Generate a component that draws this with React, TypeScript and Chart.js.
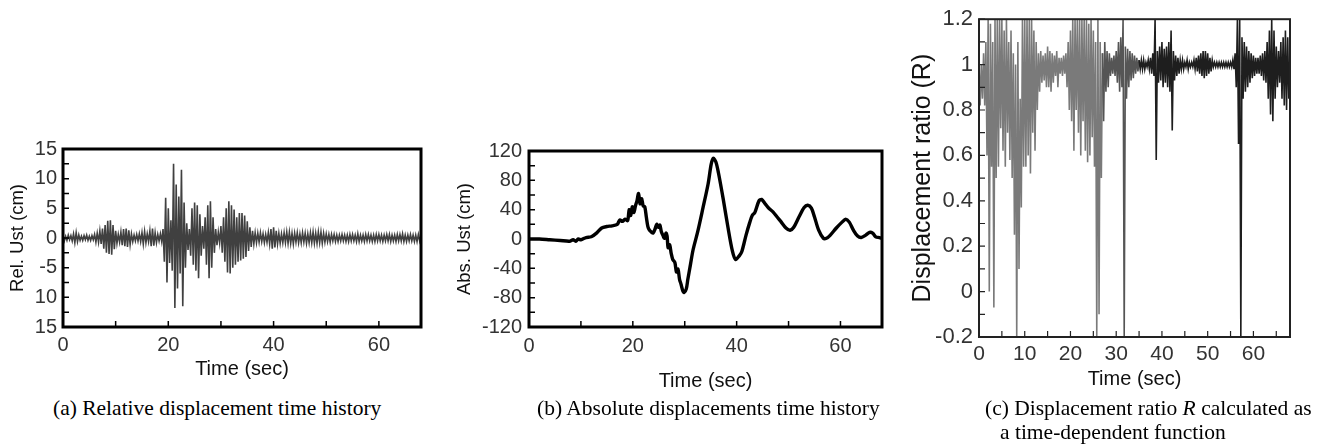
import React, { useEffect, useRef } from 'react';
import { Chart, registerables } from 'chart.js';

Chart.register(...registerables);

// ---------------- (a) Relative displacement time history ----------------
const REL_DT = 0.25; // seconds between samples
const REL_UST = [
  0.4, -0.5, 0.3, -0.4,
  0.5, -0.3, 0.4, -0.5,
  0.7, -0.8, 0.9, -0.6,
  0.5, -0.4, 0.3, -0.4,
  0.4, -0.3, 0.5, -0.4,
  0.3, -0.4, 0.4, -0.3,
  0.6, -0.7, 0.8, -0.7,
  1.2, -1.0, 1.6, -1.8,
  2.2, -2.5, 2.9, -2.7,
  3.0, -2.8, 2.2, -1.9,
  1.2, -0.9, 0.6, -0.7,
  1.0, -1.2, 1.5, -1.4,
  1.6, -1.5, 1.3, -1.1,
  0.7, -0.6, 0.5, -0.5,
  0.6, -0.5, 0.7, -0.6,
  0.9, -1.0, 1.1, -0.8,
  0.7, -0.6, 1.2, -1.4,
  1.6, -1.3, 0.9, -0.8,
  0.6, -0.5, 0.7, -0.6,
  1.5, -4.0, 6.8, -7.5,
  5.0, -4.2, 3.0, -5.5,
  12.5, -11.8, 9.0, -8.5,
  7.0, -6.0, 11.5, -11.5,
  6.0, -5.0, 2.5, -2.0,
  1.5, -3.0, 5.0, -4.5,
  6.0, -5.5, 5.5, -6.8,
  4.0, -3.0, 2.0, -1.8,
  3.5, -4.5, 5.5, -6.8,
  6.2, -5.0, 3.5, -2.5,
  1.5, -1.2, 1.0, -0.8,
  2.0, -2.5, 3.5, -4.0,
  5.0, -5.8, 6.2, -6.0,
  5.5, -5.0, 4.8, -4.5,
  3.5, -4.0, 4.2, -3.8,
  4.2, -3.5, 3.8, -3.2,
  2.8, -2.2, 1.8, -1.5,
  1.2, -1.0, 0.9, -0.8,
  0.8, -0.7, 0.9, -0.6,
  0.7, -0.8, 0.6, -0.7,
  0.9, -1.0, 1.5, -1.8,
  1.8, -1.6, 1.2, -1.0,
  0.8, -0.9, 0.7, -0.8,
  0.9, -0.8, 1.0, -0.9,
  1.0, -0.9, 0.8, -1.0,
  0.8, -0.7, 0.9, -0.8,
  0.7, -0.8, 0.9, -0.7,
  0.8, -0.9, 0.7, -0.8,
  0.9, -0.8, 1.0, -0.9,
  0.8, -0.9, 1.0, -0.8,
  1.0, -0.9, 0.8, -0.7,
  0.7, -0.6, 0.6, -0.7,
  0.6, -0.5, 0.6, -0.6,
  0.5, -0.6, 0.5, -0.5,
  0.6, -0.5, 0.5, -0.6,
  0.5, -0.6, 0.6, -0.5,
  0.6, -0.5, 0.5, -0.6,
  0.7, -0.6, 0.5, -0.5,
  0.5, -0.6, 0.6, -0.5,
  0.6, -0.5, 0.5, -0.6,
  0.5, -0.6, 0.6, -0.5,
  0.6, -0.5, 0.5, -0.6,
  0.5, -0.5, 0.6, -0.5,
  0.6, -0.6, 0.5, -0.5,
  0.5, -0.6, 0.6, -0.5,
  0.6, -0.5, 0.7, -0.6,
  0.5, -0.6, 0.5, -0.5,
  0.6, -0.5, 0.5, -0.6,
  0.5, -0.6, 0.6, -0.5,
  0.4,
];
const A_Y_TICKS = [-15, -10, -5, 0, 5, 10, 15];
const A_Y_LABELS = ['15', '10', '-5', '0', '5', '10', '15'];

// ---------------- (b) Absolute displacements time history ----------------
const ABS_TIME = [
  0, 2, 4, 6, 7.8, 8.5, 9, 9.5, 10, 11,
  12, 13, 14, 15, 16, 17, 17.5, 18, 18.5, 19,
  19.3, 19.6, 19.9, 20.2, 20.5, 20.8, 21.1, 21.4, 21.7, 22,
  22.3, 22.6, 22.9, 23.2, 23.5, 23.9, 24.3, 24.6, 24.9, 25.2,
  25.5, 25.8, 26.1, 26.4, 26.6, 26.8, 27.1, 27.4, 27.7, 28.1,
  28.4, 28.7, 29, 29.3, 29.6, 29.9, 30.3, 30.6, 31.1, 31.6,
  32.5, 33.5, 34.5, 35.1, 35.5, 36, 36.5, 37.4, 38.3, 39.2,
  39.8, 40.5, 41, 41.8, 42.5, 43, 43.5, 44.3, 44.8, 45.5,
  46.2, 47, 47.8, 48.5, 49.5, 50.3, 51, 52, 53, 53.7,
  54.4, 55, 55.8, 56.7, 57.3, 58, 59.2, 60.3, 61, 61.7,
  62.5, 63.3, 64, 64.8, 65.6, 66.2, 66.8, 67.5, 68,
];
const ABS_UST = [
  0, 0, -1, -2, -3, -1, -3, 0, -1, 2,
  3, 8, 15, 17, 18, 20, 26, 24, 27, 25,
  40, 32, 44, 36, 45, 52, 62, 48, 55, 45,
  44, 30, 17, 12, 10, 8, 14, 20, 16, 19,
  10, 5, 1, 8, 4, -12, -8, -20, -28, -32,
  -45, -41, -55, -62, -70, -73, -68, -55, -35, -15,
  10, 42, 75, 102, 110, 105, 90, 55, 17, -17,
  -28, -23, -17, 5, 22, 32, 36, 52, 54, 48,
  42, 37, 30, 24, 15, 12, 16, 30, 43, 46,
  42, 30, 12, 1, 1, 5, 15, 23, 27, 23,
  12, 4, 2, 5, 9, 8, 3, 2, 1,
];
const B_Y_TICKS = [-120, -80, -40, 0, 40, 80, 120];
const B_Y_LABELS = ['-120', '-80', '-40', '0', '40', '80', '120'];
const AB_X_TICKS = [0, 20, 40, 60];
const AB_X_LABELS = ['0', '20', '40', '60'];

// ---------------- (c) Displacement ratio R ----------------
const R_DT = 0.25;
const RATIO_R = [
  1.0, 0.82, 1.0, 0.85,
  1.05, 0.82, 1.1, 0.6,
  1.2, 0.0, 1.18, 0.55,
  1.1, -0.07, 1.2, 0.5,
  1.2, 0.55, 1.2, 0.72,
  1.2, 0.62, 1.15, 0.55,
  1.2, 0.7, 1.1, 0.58,
  1.15, 0.5, 1.05, 0.25,
  1.0, -0.2, 1.1, 0.1,
  0.85, 0.37, 1.2, 0.55,
  1.2, 0.55, 1.2, 0.6,
  1.2, 0.52, 1.2, 0.7,
  1.15, 0.62, 1.1, 0.8,
  1.05, 0.88, 1.06, 0.92,
  1.04, 0.93, 1.05, 0.9,
  1.08, 0.9, 1.06, 0.88,
  1.05, 0.92, 1.04, 0.95,
  1.06, 0.9, 1.03, 0.96,
  1.03, 0.95, 1.04, 0.96,
  1.05, 0.9, 1.1, 0.8,
  1.15, 0.75, 1.2, 0.62,
  1.2, 0.8, 1.2, 0.7,
  1.2, 0.6, 1.2, 0.75,
  1.2, 0.62, 1.2, 0.57,
  1.18, 0.6, 1.2, 0.68,
  1.15, 0.55, 1.1, -0.2,
  1.2, -0.1, 1.1, 0.5,
  1.05, 0.75, 1.1, 0.88,
  1.06, 0.9, 1.05, 0.95,
  1.03, 0.96, 1.04, 0.95,
  1.06, 0.92, 1.1, 0.88,
  1.12, 0.9, 1.2, -0.2,
  1.08, 0.85, 1.07, 0.9,
  1.06, 0.93, 1.05, 0.94,
  1.04, 0.96, 1.03, 0.97,
  1.02, 0.98, 1.02, 0.98,
  1.02, 0.98, 1.01, 0.99,
  1.02, 0.98, 1.03, 0.96,
  1.05, 0.95, 1.2, 0.58,
  1.06, 0.92, 1.08, 0.93,
  1.1, 0.9, 1.07, 0.92,
  1.08, 0.9, 1.1, 0.88,
  1.15, 0.71, 1.06, 0.93,
  1.04, 0.95, 1.03, 0.96,
  1.02, 0.98, 1.02, 0.98,
  1.01, 0.99, 1.02, 0.98,
  1.01, 0.99, 1.01, 0.99,
  1.02, 0.98, 1.03, 0.97,
  1.04, 0.96, 1.05, 0.95,
  1.06, 0.94, 1.06, 0.95,
  1.05, 0.96, 1.03, 0.97,
  1.02, 0.99, 1.01, 0.99,
  1.01, 0.99, 1.01, 0.99,
  1.01, 0.99, 1.01, 0.99,
  1.01, 0.99, 1.01, 0.99,
  1.01, 0.99, 1.02, 0.98,
  1.05, 0.9, 1.2, 0.65,
  1.2, -0.2, 1.12, 0.85,
  1.1, 0.88, 1.08, 0.9,
  1.06, 0.92, 1.05, 0.94,
  1.04, 0.95, 1.03, 0.96,
  1.03, 0.96, 1.04, 0.95,
  1.05, 0.93, 1.06, 0.92,
  1.1, 0.85, 1.15, 0.78,
  1.2, 0.75, 1.15, 0.85,
  1.08, 0.9, 1.06, 0.92,
  1.1, 0.85, 1.12, 0.82,
  1.15, 0.8, 1.12, 0.85,
  1.0,
];
const C_Y_TICKS = [-0.2, 0, 0.2, 0.4, 0.6, 0.8, 1, 1.2];
const C_Y_LABELS = ['-0.2', '0', '0.2', '0.4', '0.6', '0.8', '1', '1.2'];
const C_X_TICKS = [0, 10, 20, 30, 40, 50, 60];
const C_X_LABELS = ['0', '10', '20', '30', '40', '50', '60'];

// ---------------- helpers ----------------
const SANS = '"Liberation Sans", Arial, sans-serif';
const SERIF = '"Liberation Serif", "Times New Roman", serif';
const TICK_COLOR = '#333';
const TITLE_COLOR = '#111';

function labelFor(ticks: number[], labels: string[]) {
  return (v: any) => {
    const i = ticks.findIndex((t) => Math.abs(t - Number(v)) < 1e-9);
    return i >= 0 ? labels[i] : '';
  };
}

const framePlugin = {
  id: 'frame',
  afterDatasetsDraw(chart: any, _args: any, opts: any) {
    const { ctx, chartArea: a, scales } = chart;
    ctx.save();
    ctx.strokeStyle = opts.color || '#000';
    ctx.lineWidth = opts.tickWidth || 1.5;
    ctx.beginPath();
    for (const t of scales.y.ticks) {
      const p = scales.y.getPixelForValue(t.value);
      ctx.moveTo(a.left, p);
      ctx.lineTo(a.left + opts.tickLen, p);
    }
    for (const t of scales.x.ticks) {
      const p = scales.x.getPixelForValue(t.value);
      ctx.moveTo(p, a.bottom);
      ctx.lineTo(p, a.bottom - opts.tickLen);
    }
    ctx.stroke();
    ctx.lineWidth = opts.frameWidth;
    ctx.strokeRect(a.left, a.top, a.right - a.left, a.bottom - a.top);
    ctx.restore();
  },
};

function yAxis(p: any) {
  return {
    type: 'linear',
    position: 'left',
    min: p.min,
    max: p.max,
    bounds: 'data',
    grid: { display: false, drawTicks: false },
    border: { display: false },
    ticks: {
      stepSize: p.step,
      autoSkip: false,
      includeBounds: false,
      padding: p.labelPad,
      color: TICK_COLOR,
      font: { family: SANS, size: p.tickSize },
      callback: p.label,
    },
    title: {
      display: true,
      text: p.title,
      color: TITLE_COLOR,
      font: { family: SANS, size: p.titleSize },
      padding: { top: p.titlePad, bottom: 0 },
    },
    afterFit: (s: any) => {
      s.width = p.width;
    },
  };
}

function xAxis(p: any) {
  return {
    type: 'linear',
    position: 'bottom',
    min: 0,
    max: 68,
    bounds: 'data',
    grid: { display: false, drawTicks: false },
    border: { display: false },
    ticks: {
      stepSize: p.step,
      autoSkip: false,
      includeBounds: false,
      maxRotation: 0,
      padding: p.labelPad,
      color: TICK_COLOR,
      font: { family: SANS, size: p.tickSize },
      callback: p.label,
    },
    title: {
      display: true,
      text: 'Time (sec)',
      color: TITLE_COLOR,
      font: { family: SANS, size: p.titleSize },
      padding: { top: 0, bottom: p.titlePad },
    },
    afterFit: (s: any) => {
      s.height = p.height;
    },
  };
}

function baseOptions(padding: any, frame: any, x: any, y: any) {
  return {
    responsive: false,
    animation: false,
    devicePixelRatio: 1,
    events: [],
    layout: { padding },
    plugins: { legend: { display: false }, tooltip: { enabled: false }, frame },
    scales: { x, y },
  };
}

function buildA() {
  return {
    type: 'line',
    data: {
      datasets: [
        {
          data: REL_UST.map((y, i) => ({ x: i * REL_DT, y })),
          borderColor: 'rgba(30,30,30,0.85)',
          borderWidth: 1.6,
          pointRadius: 0,
          tension: 0,
        },
      ],
    },
    options: baseOptions(
      { top: 19, right: 19, left: 0, bottom: 0 },
      { tickLen: 6, frameWidth: 3, tickWidth: 1.5 },
      xAxis({ step: 10, labelPad: 6, tickSize: 20, titleSize: 20, titlePad: 9, height: 63, label: labelFor(AB_X_TICKS, AB_X_LABELS) }),
      yAxis({ min: -15, max: 15, step: 2.5, labelPad: 6, tickSize: 20, title: 'Rel. Ust (cm)', titleSize: 18.5, titlePad: 7, width: 63, label: labelFor(A_Y_TICKS, A_Y_LABELS) })
    ),
    plugins: [framePlugin],
  };
}

function buildB() {
  return {
    type: 'line',
    data: {
      datasets: [
        {
          data: ABS_TIME.map((t, i) => ({ x: t, y: ABS_UST[i] })),
          borderColor: '#000',
          borderWidth: 3.4,
          pointRadius: 0,
          tension: 0.3,
        },
      ],
    },
    options: baseOptions(
      { top: 21, right: 18, left: 0, bottom: 0 },
      { tickLen: 6, frameWidth: 3, tickWidth: 1.5 },
      xAxis({ step: 10, labelPad: 7, tickSize: 20, titleSize: 20, titlePad: 12, height: 78, label: labelFor(AB_X_TICKS, AB_X_LABELS) }),
      yAxis({ min: -120, max: 120, step: 20, labelPad: 7, tickSize: 20, title: 'Abs. Ust (cm)', titleSize: 18.5, titlePad: 14, width: 89, label: labelFor(B_Y_TICKS, B_Y_LABELS) })
    ),
    plugins: [framePlugin],
  };
}

function buildC() {
  return {
    type: 'line',
    data: {
      datasets: [
        {
          data: RATIO_R.map((y, i) => ({ x: i * R_DT, y })),
          borderWidth: 1.6,
          pointRadius: 0,
          tension: 0,
          borderColor: '#666',
          segment: {
            borderColor: (ctx: any) =>
              ctx.p0.parsed.x < 27 ? '#7a7a7a' : ctx.p0.parsed.x < 35 ? '#555' : '#1e1e1e',
          },
        },
      ],
    },
    options: baseOptions(
      { top: 16, right: 40, left: 0, bottom: 0 },
      { tickLen: 6, frameWidth: 2, tickWidth: 1.2, color: '#222' },
      xAxis({ step: 5, labelPad: 5, tickSize: 21, titleSize: 20, titlePad: 4, height: 58, label: labelFor(C_X_TICKS, C_X_LABELS) }),
      yAxis({ min: -0.2, max: 1.2, step: 0.1, labelPad: 6, tickSize: 22, title: 'Displacement ratio (R)', titleSize: 25, titlePad: 28, width: 99, label: labelFor(C_Y_TICKS, C_Y_LABELS) })
    ),
    plugins: [framePlugin],
  };
}

function Panel({ x, y, w, h, build }: { x: number; y: number; w: number; h: number; build: () => any }) {
  const ref = useRef<HTMLCanvasElement | null>(null);
  useEffect(() => {
    const chart = new Chart(ref.current as HTMLCanvasElement, build());
    return () => chart.destroy();
  }, []);
  return (
    <canvas
      ref={ref}
      width={w}
      height={h}
      style={{ position: 'absolute', left: x, top: y, width: w, height: h, display: 'block' }}
    />
  );
}

const captionStyle: React.CSSProperties = {
  position: 'absolute',
  fontFamily: SERIF,
  fontSize: '21.5px',
  lineHeight: '25px',
  color: '#000',
  whiteSpace: 'nowrap',
};

export default function App() {
  return (
    <div style={{ position: 'absolute', left: 0, top: 0, width: 1330, height: 448, background: '#fff', overflow: 'hidden' }}>
      <Panel x={0} y={130} w={440} h={260} build={buildA} />
      <Panel x={440} y={130} w={460} h={275} build={buildB} />
      <Panel x={880} y={0} w={450} h={395} build={buildC} />
      <div style={{ ...captionStyle, left: 53, top: 396 }}>(a) Relative displacement time history</div>
      <div style={{ ...captionStyle, left: 537, top: 396 }}>(b) Absolute displacements time history</div>
      <div style={{ ...captionStyle, left: 985, top: 396 }}>
        (c) Displacement ratio <i>R</i> calculated as
      </div>
      <div style={{ ...captionStyle, left: 1000, top: 420 }}>a time-dependent function</div>
    </div>
  );
}
